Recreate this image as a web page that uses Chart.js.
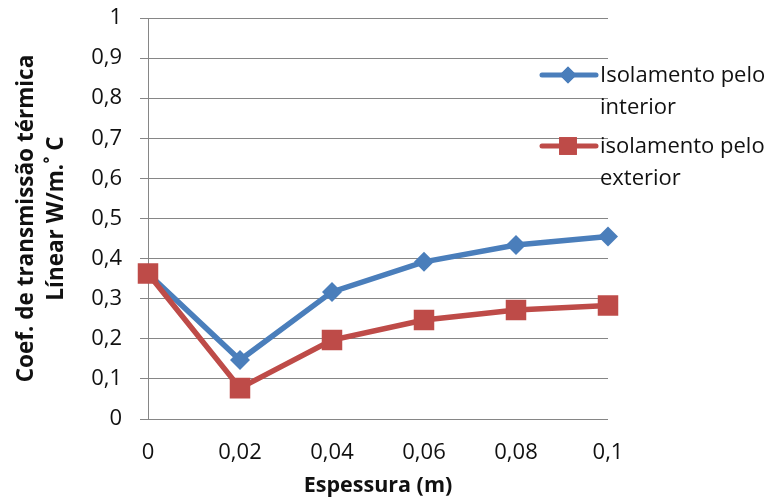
<!DOCTYPE html>
<html>
<head>
<meta charset="utf-8">
<script src="https://cdn.jsdelivr.net/npm/chart.js@4/dist/chart.umd.min.js"></script>
<style>
  html, body { margin: 0; padding: 0; background: #ffffff; }
  #wrap { width: 776px; height: 499px; }
</style>
</head>
<body>
<div id="wrap"><canvas id="chart" width="776" height="499"></canvas></div>
<script>
// Espessura do isolamento (m)
const espessuras = ['0', '0,02', '0,04', '0,06', '0,08', '0,1'];
// Coeficiente de transmissão térmica linear (W/m.°C)
const isolamentoInterior = [0.363, 0.147, 0.317, 0.392, 0.434, 0.455];
const isolamentoExterior = [0.363, 0.077, 0.197, 0.247, 0.272, 0.283];
const nomesSeries = [['Isolamento pelo', 'interior'], ['isolamento pelo', 'exterior']];
const tituloY = ['Coef. de transmissão térmica', 'Línear W/m.˚ C'];
const tituloX = 'Espessura (m)';

const AZUL = '#4A7EBB';
const VERMELHO = '#BE4B48';
const GRELHA = '#868686';
const FONTE = "'Open Sans', sans-serif";

const fmt = v => {
  const r = Math.round(v * 10) / 10;
  return r === 0 ? '0' : r === 1 ? '1' : r.toFixed(1).replace('.', ',');
};

// Legenda desenhada à direita, com texto em duas linhas
const legendaDireita = {
  id: 'legendaDireita',
  afterDraw(chart) {
    const ctx = chart.ctx;
    const itens = [
      { cor: AZUL, estilo: 'rectRot', raio: 8.5, y: 75, texto: nomesSeries[0] },
      { cor: VERMELHO, estilo: 'rect', raio: 12.5, y: 146, texto: nomesSeries[1] }
    ];
    ctx.save();
    itens.forEach(it => {
      ctx.strokeStyle = it.cor;
      ctx.lineWidth = 5;
      ctx.lineCap = 'round';
      ctx.beginPath();
      ctx.moveTo(542, it.y);
      ctx.lineTo(596, it.y);
      ctx.stroke();
      ctx.fillStyle = it.cor;
      Chart.helpers.drawPoint(ctx, { pointStyle: it.estilo, radius: it.raio, borderWidth: 0, rotation: 0 }, 568, it.y);
      ctx.fill();
      ctx.fillStyle = '#111111';
      ctx.font = "22px " + FONTE;
      ctx.textAlign = 'left';
      ctx.textBaseline = 'middle';
      it.texto.forEach((linha, i) => ctx.fillText(linha, 600, it.y + 1 + i * 32));
    });
    ctx.restore();
  }
};

new Chart(document.getElementById('chart'), {
  type: 'line',
  data: {
    labels: espessuras,
    datasets: [
      {
        label: nomesSeries[0].join(' '),
        data: isolamentoInterior,
        borderColor: AZUL,
        backgroundColor: AZUL,
        borderWidth: 5.5,
        pointStyle: 'rectRot',
        pointRadius: 10,
        pointHoverRadius: 10,
        pointBorderWidth: 0,
        tension: 0,
        order: 1
      },
      {
        label: nomesSeries[1].join(' '),
        data: isolamentoExterior,
        borderColor: VERMELHO,
        backgroundColor: VERMELHO,
        borderWidth: 5.5,
        pointStyle: 'rect',
        pointRadius: 14.5,
        pointHoverRadius: 14.5,
        pointBorderWidth: 0,
        tension: 0,
        order: 0
      }
    ]
  },
  options: {
    responsive: false,
    animation: false,
    layout: { padding: { top: 18, right: 168, left: 0, bottom: 0 } },
    plugins: {
      legend: { display: false },
      tooltip: { enabled: false }
    },
    scales: {
      x: {
        type: 'category',
        offset: false,
        grid: { display: false, drawTicks: false },
        border: { display: false },
        ticks: {
          color: '#111111',
          font: { family: FONTE, size: 22 },
          padding: 21,
          maxRotation: 0,
          autoSkip: false
        },
        title: {
          display: true,
          text: tituloX,
          color: '#111111',
          font: { family: FONTE, size: 21.5, weight: 'bold' },
          padding: { top: 0, bottom: 0 }
        },
        afterFit(scale) { scale.height = 80; scale.paddingLeft = 0; scale.paddingRight = 0; }
      },
      y: {
        min: 0,
        max: 1,
        grid: { color: GRELHA, lineWidth: 1, tickLength: 8, drawTicks: true, tickColor: GRELHA },
        border: { display: true, color: GRELHA, width: 1 },
        ticks: {
          stepSize: 0.1,
          color: '#111111',
          font: { family: FONTE, size: 22 },
          padding: 18,
          callback: v => fmt(v)
        },
        title: {
          display: true,
          text: tituloY,
          color: '#111111',
          font: { family: FONTE, size: 22.5, weight: 'bold', lineHeight: '30px' },
          padding: { top: 12, bottom: 0 }
        },
        afterFit(scale) { scale.width = 148; scale.paddingTop = 0; scale.paddingBottom = 0; }
      }
    }
  },
  plugins: [legendaDireita]
});
</script>
</body>
</html>
